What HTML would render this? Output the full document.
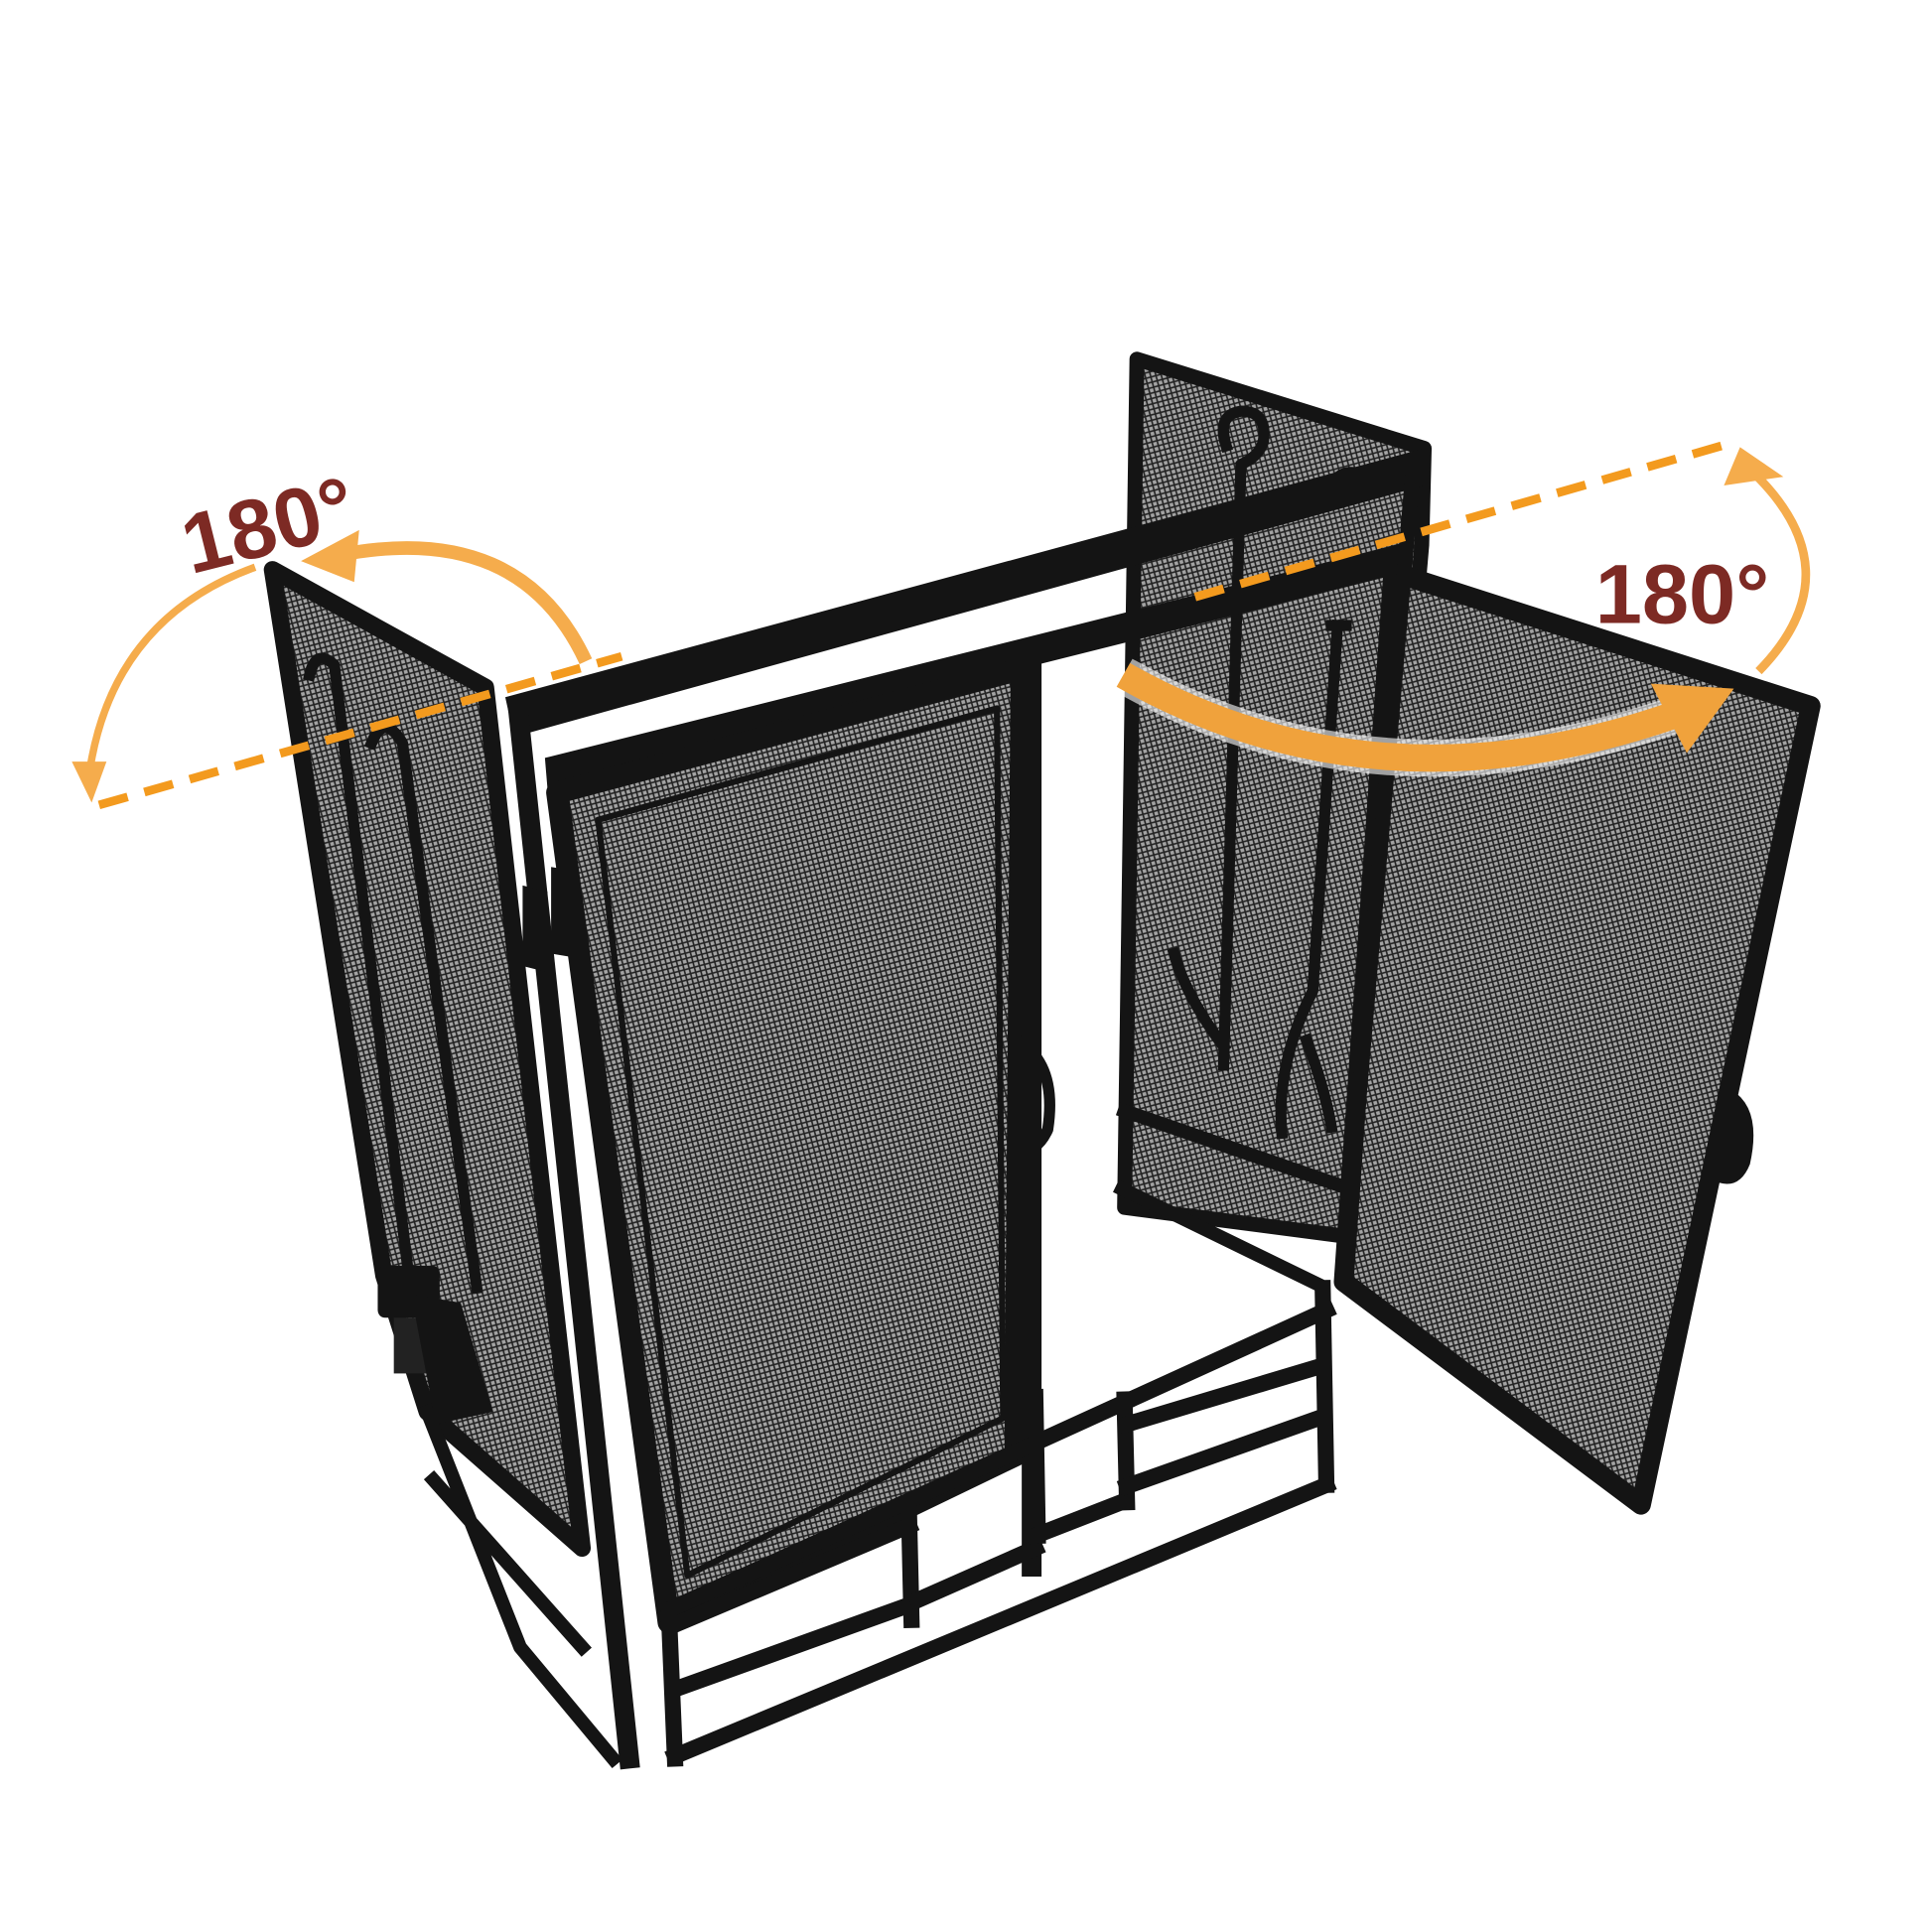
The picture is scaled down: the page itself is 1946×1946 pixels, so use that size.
<!DOCTYPE html>
<html><head><meta charset="utf-8"><style>
html,body{margin:0;padding:0;background:#fff}
svg{display:block}
</style></head><body>
<svg width="1946" height="1946" viewBox="0 0 1560 1560" xmlns="http://www.w3.org/2000/svg">
<defs>
<pattern id="mesh" width="6" height="6" patternUnits="userSpaceOnUse" patternTransform="rotate(30)">
<rect width="6" height="6" fill="#a4a4a4"/>
<path d="M0 0L6 6M6 0L0 6" stroke="#222" stroke-width="1.3"/>
</pattern>
</defs>
<g stroke-linejoin="round" stroke-linecap="square">
<!-- back panel -->
<polygon points="918,290 1150,362 1148,440 1100,1000 908,975" fill="url(#mesh)"/>
<polygon points="918,290 1150,362 1148,440 1100,1000 908,975" fill="none" stroke="#141414" stroke-width="12"/>
<line x1="908" y1="897" x2="1090" y2="960" stroke="#141414" stroke-width="11"/>
<line x1="906" y1="960" x2="1062" y2="1036" stroke="#141414" stroke-width="11"/>
<path d="M990,360 q-8,-25 12,-28 q22,0 18,25 q-4,12 -18,18 L988,860 M988,845 q-30,-40 -40,-75" stroke="#141414" stroke-width="9" fill="none"/>
<path d="M1075,395 q5,-18 25,-12" stroke="#141414" stroke-width="9" fill="none"/>
<path d="M1075,505 l12,0 M1080,505 L1060,800 q-30,60 -25,115 M1055,840 q15,40 20,70" stroke="#141414" stroke-width="9" fill="none"/>
<!-- left panel -->
<polygon points="220,460 392,555 470,1250 345,1140 310,1030" fill="url(#mesh)"/>
<polygon points="220,460 392,555 470,1250 345,1140 310,1030" fill="none" stroke="#141414" stroke-width="14"/>
<path d="M345,1140 L420,1330 L495,1420 M350,1195 L470,1330" stroke="#141414" stroke-width="11" fill="none"/>
<path d="M250,545 q5,-22 20,-8 L330,1030 M300,600 q10,-25 25,0 L385,1040" stroke="#141414" stroke-width="9" fill="none"/>
<rect x="305" y="1022" width="50" height="42" rx="6" fill="#141414"/>
<rect x="318" y="1064" width="28" height="45" fill="#222"/>
<polygon points="332,1045 372,1052 398,1140 352,1150" fill="#141414"/>
<!-- right open door -->
<polygon points="1125,462 1462,570 1325,1215 1085,1035" fill="url(#mesh)"/>
<polygon points="1125,462 1462,570 1325,1215 1085,1035" fill="none" stroke="#141414" stroke-width="16"/>
<path d="M1398,880 q25,15 15,60 q-8,20 -25,15z" fill="#141414"/>
<!-- front main frame -->
<polygon points="408,563 1150,362 1150,392 415,595" fill="#141414"/>
<polygon points="440,612 1135,438 1135,462 442,636" fill="#141414"/>
<line x1="418" y1="570" x2="508" y2="1420" stroke="#141414" stroke-width="16"/>
<line x1="1140" y1="390" x2="1085" y2="1030" stroke="#141414" stroke-width="12"/>
<!-- left door -->
<polygon points="450,640 825,540 820,1175 540,1310" fill="url(#mesh)"/>
<polygon points="483,662 805,572 810,1145 555,1272" fill="none" stroke="#141414" stroke-width="5"/>
<polygon points="450,640 825,540 820,1175 540,1310" fill="none" stroke="#141414" stroke-width="18"/>
<path d="M822,840 q32,20 24,72 q-8,18 -24,18" fill="none" stroke="#141414" stroke-width="9"/>
<line x1="833" y1="530" x2="833" y2="1265" stroke="#141414" stroke-width="16"/>
<path d="M422,715 l20,5 l0,65 l-20,-5z M445,700 l18,3 l0,70 l-18,-3z" fill="#141414"/>
<!-- bottom lattice -->
<g stroke="#141414" stroke-width="13" fill="none">
<line x1="540" y1="1300" x2="1071" y2="1058"/>
<line x1="540" y1="1314" x2="734" y2="1232"/>
<line x1="545" y1="1364" x2="734" y2="1296"/>
<line x1="545" y1="1418" x2="1071" y2="1199"/>
<line x1="734" y1="1222" x2="736" y2="1308"/>
<line x1="741" y1="1292" x2="836" y2="1250"/>
<line x1="836" y1="1128" x2="838" y2="1240"/>
<line x1="836" y1="1240" x2="908" y2="1212"/>
<line x1="908" y1="1130" x2="910" y2="1213"/>
<line x1="910" y1="1150" x2="1060" y2="1105"/>
<line x1="910" y1="1200" x2="1065" y2="1145"/>
<line x1="1068" y1="1040" x2="1071" y2="1199"/>
<line x1="540" y1="1300" x2="545" y2="1420"/>
</g>
</g>
<!-- orange annotations -->
<g fill="none">
<line x1="80" y1="650" x2="502" y2="530" stroke="#f39a1e" stroke-width="7" stroke-dasharray="24,14"/>
<line x1="965" y1="482" x2="1390" y2="360" stroke="#f39a1e" stroke-width="7" stroke-dasharray="24,14"/>
<path d="M206,458 Q90,500 72,625" stroke="#f5ac4c" stroke-width="6"/>
<path d="M473,534 Q420,420 275,448" stroke="#f5ac4c" stroke-width="11"/>
<path d="M1420,542 Q1500,460 1412,378" stroke="#f5ac4c" stroke-width="7"/>
<path d="M907,545 Q1110,660 1350,578" stroke="#fff" stroke-width="30" opacity="0.6"/>
<path d="M907,545 Q1110,660 1350,578" stroke="#f0a23c" stroke-width="22"/>
</g>
<g fill="#f5ac4c">
<polygon points="58,615 86,615 74,648"/>
<polygon points="243,453 290,428 286,470"/>
<polygon points="1405,361 1392,392 1440,385"/>
<polygon points="1400,556 1333,552 1362,608" fill="#f0a23c"/>
</g>
<g font-family="'Liberation Sans',sans-serif" font-weight="bold" fill="#7d2a24" font-size="68">
<text x="145" y="450" transform="rotate(-14 205 420)">180°</text>
<text x="1288" y="503">180°</text>
</g>
</svg>
</body></html>
